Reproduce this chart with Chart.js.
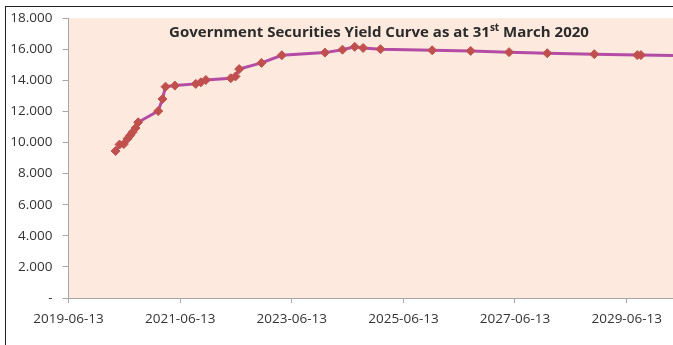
<!DOCTYPE html>
<html>
<head>
<meta charset="utf-8">
<script src="https://cdn.jsdelivr.net/npm/chart.js@4"></script>
<style>
  html, body { margin: 0; padding: 0; background: #fff; }
  #wrap { width: 673px; height: 345px; }
</style>
</head>
<body>
<div id="wrap"><canvas id="yield-curve"></canvas></div>
<script>
// maturity dates and yields (%)
const maturities = [
    '2020-04-16', '2020-05-12', '2020-06-09', '2020-07-03', '2020-07-20',
    '2020-08-05', '2020-08-25', '2020-09-11', '2021-01-20', '2021-02-17',
    '2021-03-09', '2021-05-09', '2021-09-23', '2021-10-26', '2021-11-28',
    '2022-05-10', '2022-06-10', '2022-07-04', '2022-11-27', '2023-04-09',
    '2024-01-16', '2024-05-10', '2024-07-29', '2024-09-22', '2025-01-14',
    '2025-12-18', '2026-08-27', '2027-05-05', '2028-01-10', '2028-11-13',
    '2029-08-21', '2029-09-14', '2030-10-01'
];
const yields = [
    9.45, 9.87, 9.90, 10.24, 10.45,
    10.66, 10.93, 11.30, 12.02, 12.80,
    13.59, 13.66, 13.77, 13.87, 14.02,
    14.13, 14.25, 14.72, 15.12, 15.61,
    15.78, 15.97, 16.15, 16.08, 16.00,
    15.93, 15.89, 15.81, 15.74, 15.68,
    15.62, 15.62, 15.56
];
const xTickDates = ['2019-06-13', '2021-06-13', '2023-06-13', '2025-06-13', '2027-06-13', '2029-06-13'];
const xMinDate = '2019-06-13';
const xMaxDate = '2030-04-12';

const toDay = s => Date.parse(s) / 864e5;
const fmtDay = d => new Date(d * 864e5).toISOString().slice(0, 10);

const points = maturities.map((m, i) => ({ x: toDay(m), y: yields[i] }));

const plotBg = {
    id: 'plotBg',
    beforeDraw(chart) {
        const { ctx, chartArea: a } = chart;
        ctx.save();
        ctx.fillStyle = '#fde9dd';
        ctx.fillRect(a.left, a.top, a.right - a.left, a.bottom - a.top);
        ctx.restore();
    },
    afterDraw(chart) {
        const { ctx } = chart;
        ctx.save();
        // outer frame
        ctx.strokeStyle = '#222';
        ctx.lineWidth = 1;
        ctx.strokeRect(5.5, 6.5, 800, 500);
        // title with superscript
        const parts = [
            ['Government Securities Yield Curve as at 31', 'bold 15px "Open Sans"', 0],
            ['st', 'bold 10px "Open Sans"', -6],
            [' March 2020', 'bold 15px "Open Sans"', 0]
        ];
        let total = 0;
        parts.forEach(p => { ctx.font = p[1]; total += ctx.measureText(p[0]).width; });
        let x = 379 - total / 2;
        ctx.fillStyle = '#2b2b2b';
        ctx.textBaseline = 'alphabetic';
        ctx.textAlign = 'left';
        parts.forEach(p => {
            ctx.font = p[1];
            ctx.fillText(p[0], x, 37 + p[2]);
            x += ctx.measureText(p[0]).width;
        });
        ctx.restore();
    }
};

new Chart(document.getElementById('yield-curve'), {
    type: 'line',
    data: {
        datasets: [{
            label: 'Yield',
            data: points,
            borderColor: '#b44ca6',
            borderWidth: 3,
            pointStyle: 'rectRot',
            pointRadius: 4.5,
            pointBackgroundColor: '#c0504d',
            pointBorderColor: '#c0504d',
            pointBorderWidth: 1,
            tension: 0
        }]
    },
    options: {
        responsive: true,
        maintainAspectRatio: false,
        animation: false,
        layout: { autoPadding: false, padding: { top: 16, right: 0, left: 0, bottom: 0 } },
        plugins: {
            legend: { display: false },
            title: { display: false },
            tooltip: { enabled: false }
        },
        scales: {
            x: {
                type: 'linear',
                min: toDay(xMinDate),
                max: toDay(xMaxDate),
                afterBuildTicks: axis => {
                    axis.ticks = xTickDates.map(d => ({ value: toDay(d) }));
                },
                afterFit: axis => { axis.height = 47; },
                border: { display: true, color: '#a6a6a6', width: 1 },
                grid: { display: true, drawOnChartArea: false, drawTicks: true, tickLength: 5, color: '#a6a6a6' },
                ticks: {
                    autoSkip: false,
                    maxRotation: 0,
                    padding: 8,
                    color: '#333',
                    font: { family: 'Open Sans', size: 13.5 },
                    callback: v => fmtDay(v)
                }
            },
            y: {
                min: 0,
                max: 18,
                afterFit: axis => { axis.width = 68.5; },
                border: { display: true, color: '#a6a6a6', width: 1 },
                grid: { display: true, drawOnChartArea: false, drawTicks: true, tickLength: 6, color: '#a6a6a6' },
                ticks: {
                    stepSize: 2,
                    padding: 10,
                    color: '#333',
                    font: { family: 'Open Sans', size: 13.5 },
                    callback: v => v === 0 ? '-' : v.toFixed(3)
                }
            }
        }
    },
    plugins: [plotBg]
});
</script>
</body>
</html>
